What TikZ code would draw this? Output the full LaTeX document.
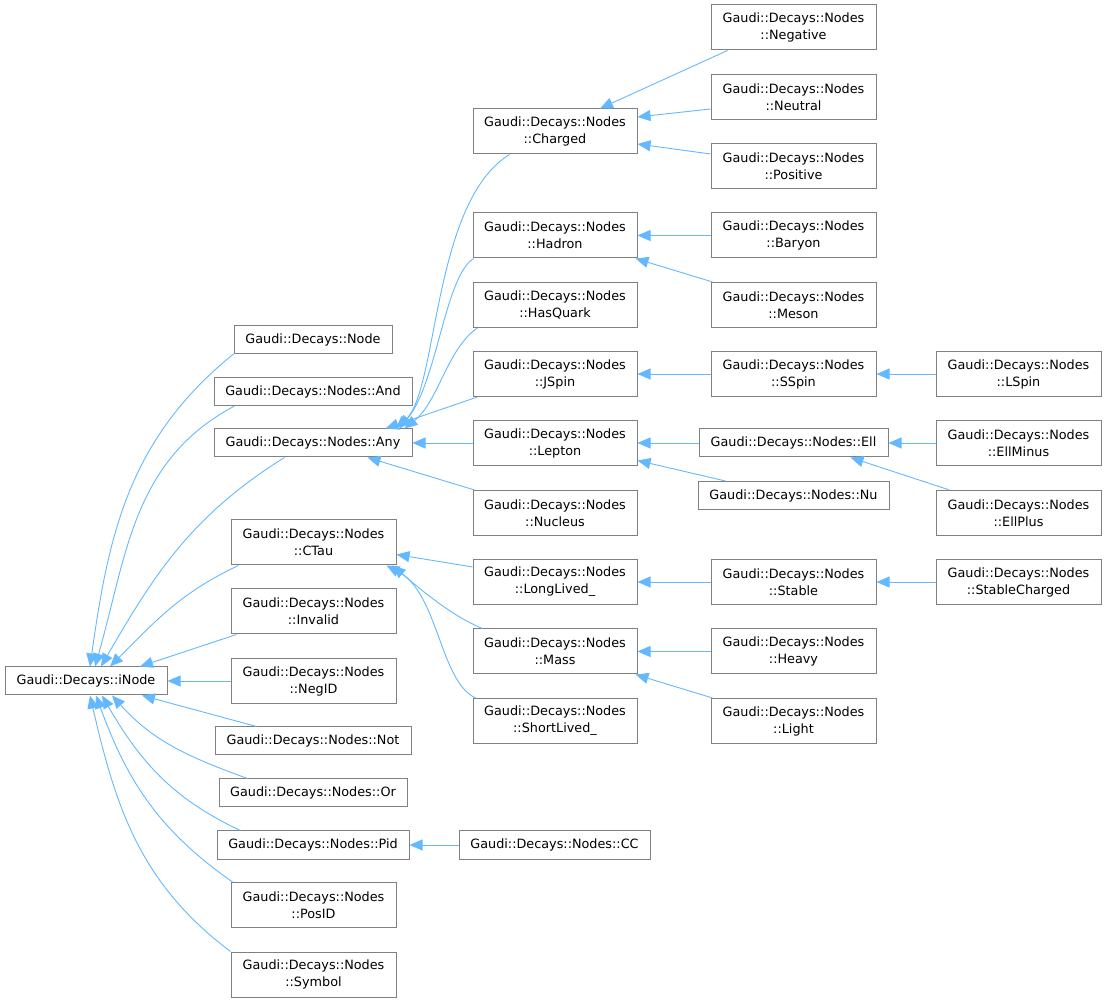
\documentclass[tikz,border=0pt]{standalone}
\usepackage{fontspec}
\setmainfont{DejaVu Sans}
\usetikzlibrary{arrows.meta}
\definecolor{edgeblue}{HTML}{63B8FF}
\definecolor{nodeborder}{HTML}{808080}
\newcommand\nodefont{\fontsize{12.8}{17}\selectfont}
\begin{document}
\begin{tikzpicture}[x=1pt,y=1pt,
  cls/.style={draw=nodeborder, line width=1pt, fill=white, inner sep=0pt, align=center, font=\nodefont, minimum height=28pt},
  two/.style={cls, minimum width=165pt, minimum height=45pt},
  edge/.style={draw=edgeblue, line width=0.9pt, -{Triangle[length=13pt,width=11pt]}}]
\useasboundingbox (0,0) rectangle (1106,1002);
% column 0
\node[cls, minimum width=162pt] (iNode) at (86,321) {Gaudi::Decays::iNode};
% column 1
\node[cls, minimum width=158pt] (Node) at (313,662.5) {Gaudi::Decays::Node};
\node[cls, minimum width=198pt] (And) at (313,610.5) {Gaudi::Decays::Nodes::And};
\node[cls, minimum width=198pt] (Any) at (313,559) {Gaudi::Decays::Nodes::Any};
\node[two] (CTau) at (313.5,459.5) {Gaudi::Decays::Nodes\\::CTau};
\node[two] (Invalid) at (313.5,390.5) {Gaudi::Decays::Nodes\\::Invalid};
\node[two] (NegID) at (313.5,321) {Gaudi::Decays::Nodes\\::NegID};
\node[cls, minimum width=196pt] (Not) at (313,261) {Gaudi::Decays::Nodes::Not};
\node[cls, minimum width=188pt] (Or) at (313,209) {Gaudi::Decays::Nodes::Or};
\node[cls, minimum width=192pt] (Pid) at (313,157) {Gaudi::Decays::Nodes::Pid};
\node[two] (PosID) at (313.5,97) {Gaudi::Decays::Nodes\\::PosID};
\node[two] (Symbol) at (313.5,27.5) {Gaudi::Decays::Nodes\\::Symbol};
% column 2
\node[two, minimum width=164pt] (Charged) at (555,870.5) {Gaudi::Decays::Nodes\\::Charged};
\node[two, minimum width=164pt] (Hadron) at (555,766.5) {Gaudi::Decays::Nodes\\::Hadron};
\node[two, minimum width=164pt] (HasQuark) at (555,697) {Gaudi::Decays::Nodes\\::HasQuark};
\node[two, minimum width=164pt] (JSpin) at (555,628) {Gaudi::Decays::Nodes\\::JSpin};
\node[two, minimum width=164pt] (Lepton) at (555,559) {Gaudi::Decays::Nodes\\::Lepton};
\node[two, minimum width=164pt] (Nucleus) at (555,489) {Gaudi::Decays::Nodes\\::Nucleus};
\node[two, minimum width=164pt] (LongLived) at (555,420) {Gaudi::Decays::Nodes\\::LongLived\_};
\node[two, minimum width=164pt] (Mass) at (555,350.5) {Gaudi::Decays::Nodes\\::Mass};
\node[two, minimum width=164pt] (ShortLived) at (555,281) {Gaudi::Decays::Nodes\\::ShortLived\_};
\node[cls, minimum width=191pt] (CC) at (554.5,157) {Gaudi::Decays::Nodes::CC};
% column 3
\node[two] (Negative) at (793.5,974.5) {Gaudi::Decays::Nodes\\::Negative};
\node[two] (Neutral) at (793.5,905) {Gaudi::Decays::Nodes\\::Neutral};
\node[two] (Positive) at (793.5,835.5) {Gaudi::Decays::Nodes\\::Positive};
\node[two] (Baryon) at (793.5,766.5) {Gaudi::Decays::Nodes\\::Baryon};
\node[two] (Meson) at (793.5,697) {Gaudi::Decays::Nodes\\::Meson};
\node[two] (SSpin) at (793.5,628) {Gaudi::Decays::Nodes\\::SSpin};
\node[cls, minimum width=189pt] (Ell) at (793.5,559) {Gaudi::Decays::Nodes::Ell};
\node[cls, minimum width=191pt] (Nu) at (793.5,506.5) {Gaudi::Decays::Nodes::Nu};
\node[two] (Stable) at (793.5,420) {Gaudi::Decays::Nodes\\::Stable};
\node[two] (Heavy) at (793.5,350.5) {Gaudi::Decays::Nodes\\::Heavy};
\node[two] (Light) at (793.5,281) {Gaudi::Decays::Nodes\\::Light};
% column 4
\node[two] (LSpin) at (1018.5,628) {Gaudi::Decays::Nodes\\::LSpin};
\node[two] (EllMinus) at (1018.5,559) {Gaudi::Decays::Nodes\\::EllMinus};
\node[two] (EllPlus) at (1018.5,489) {Gaudi::Decays::Nodes\\::EllPlus};
\node[two] (StableCharged) at (1018.5,420) {Gaudi::Decays::Nodes\\::StableCharged};

% edges to iNode
\draw[edge] (Node.south west) to[out=219,in=82] ([xshift=4]iNode.north);
\draw[edge] ([xshift=21]And.south west) to[out=208,in=74] ([xshift=9]iNode.north);
\draw[edge] ([xshift=71]Any.south west) to[out=212,in=60] ([xshift=15]iNode.north);
\draw[edge] ([xshift=8]CTau.south west) to[out=205,in=45] ([xshift=24]iNode.north);
\draw[edge] ([xshift=6]Invalid.south west) -- ([xshift=54]iNode.north);
\draw[edge] (NegID.west) -- (iNode.east);
\draw[edge] ([xshift=42]Not.north west) -- ([xshift=56]iNode.south);
\draw[edge] ([xshift=29]Or.north west) to[out=160,in=-48] ([xshift=26]iNode.south);
\draw[edge] ([xshift=24]Pid.north west) to[out=155,in=-60] ([xshift=16]iNode.south);
\draw[edge] ([xshift=2]PosID.north west) to[out=145,in=-70] ([xshift=10]iNode.south);
\draw[edge] (Symbol.north west) to[out=143,in=-77] ([xshift=4]iNode.south);
% edges to Any
\draw[edge] ([xshift=37]Charged.south west) .. controls +(-78,-48) and +(43,37) .. ([xshift=-17]Any.north east);
\draw[edge] ([xshift=1]Hadron.south west) .. controls +(-29,-19) and +(38,47) .. ([xshift=-13]Any.north east);
\draw[edge] ([xshift=5]HasQuark.south west) .. controls +(-30,-20) and +(34,27) .. ([xshift=-8]Any.north east);
\draw[edge] ([xshift=5]JSpin.south west) -- ([xshift=-27]Any.north east);
\draw[edge] (Lepton.west) -- (Any.east);
\draw[edge] ([xshift=2]Nucleus.north west) -- ([xshift=-45]Any.south east);
% edges to CTau
\draw[edge] ([yshift=-8]LongLived.north west) -- ([yshift=-12]CTau.east);
\draw[edge] ([xshift=10]Mass.north west) .. controls +(-30,12) and +(28,-24) .. ([xshift=-4]CTau.south east);
\draw[edge] ([xshift=3]ShortLived.north west) .. controls +(-36,17) and +(52,-27) .. ([xshift=-10]CTau.south east);
% edges to Charged
\draw[edge] ([xshift=17]Negative.south west) -- ([xshift=45]Charged.north);
\draw[edge] ([yshift=-12]Neutral.west) -- ([yshift=14.5]Charged.east);
\draw[edge] ([yshift=12.5]Positive.west) -- ([yshift=-12.5]Charged.east);
% edges to Hadron
\draw[edge] (Baryon.west) -- (Hadron.east);
\draw[edge] ([xshift=2]Meson.north west) -- ([xshift=-2]Hadron.south east);
% spin
\draw[edge] (SSpin.west) -- (JSpin.east);
\draw[edge] (LSpin.west) -- (SSpin.east);
% lepton
\draw[edge] (Ell.west) -- (Lepton.east);
\draw[edge] ([xshift=28]Nu.north west) -- ([yshift=-17.5]Lepton.east);
\draw[edge] (EllMinus.west) -- (Ell.east);
\draw[edge] ([xshift=14]EllPlus.north west) -- ([xshift=-38]Ell.south east);
% stable
\draw[edge] (Stable.west) -- (LongLived.east);
\draw[edge] (StableCharged.west) -- (Stable.east);
% mass
\draw[edge] (Heavy.west) -- (Mass.east);
\draw[edge] ([xshift=2]Light.north west) -- ([xshift=-2]Mass.south east);
% pid
\draw[edge] (CC.west) -- (Pid.east);
\end{tikzpicture}
\end{document}
